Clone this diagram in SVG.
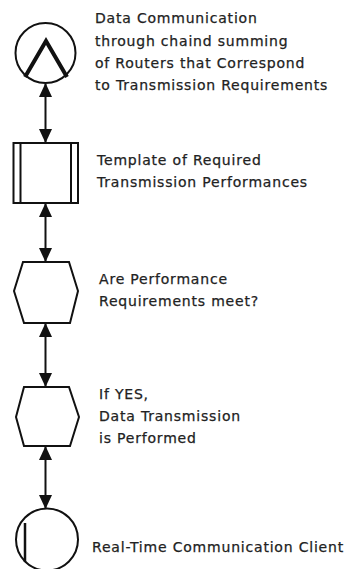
<svg xmlns="http://www.w3.org/2000/svg" width="351" height="569" viewBox="0 0 351 569">
<defs>
<marker id="ah" viewBox="0 0 14 13" refX="13" refY="6.5" markerWidth="14" markerHeight="13" markerUnits="userSpaceOnUse" orient="auto-start-reverse">
<path d="M0,0 L14,6.5 L0,13 z" fill="#111"/>
</marker>
<style>
.shape{fill:#fff;stroke:#111;stroke-width:2}
.conn{stroke:#111;stroke-width:2;fill:none;marker-start:url(#ah);marker-end:url(#ah)}
.lbl{font-family:"DejaVu Sans",sans-serif;font-size:14px;fill:#222;letter-spacing:0.8px;stroke:#222;stroke-width:0.25px}
</style>
</defs>
<rect width="351" height="569" fill="#fff"/>
<g id="connectors">
<line class="conn" x1="45.5" y1="84" x2="45.5" y2="142"/>
<line class="conn" x1="45.5" y1="204" x2="45.5" y2="261"/>
<line class="conn" x1="45.5" y1="324" x2="45.5" y2="386"/>
<line class="conn" x1="45.5" y1="447" x2="45.5" y2="508"/>
</g>
<g id="node1">
<circle class="shape" cx="45.5" cy="53" r="30"/>
<polyline points="25,77 46,41 67,77" fill="none" stroke="#111" stroke-width="4"/>
<text class="lbl" x="95" y="23">Data Communication</text>
<text class="lbl" x="95" y="46">through chaind summing</text>
<text class="lbl" x="95" y="68">of Routers that Correspond</text>
<text class="lbl" x="95" y="90">to Transmission Requirements</text>
</g>
<g id="node2">
<rect class="shape" x="13.5" y="143" width="64.5" height="60"/>
<line x1="20.5" y1="143" x2="20.5" y2="203" stroke="#111" stroke-width="2"/>
<line x1="71" y1="143" x2="71" y2="203" stroke="#111" stroke-width="2"/>
<text class="lbl" x="97" y="165">Template of Required</text>
<text class="lbl" x="97" y="187">Transmission Performances</text>
</g>
<g id="node3">
<polygon class="shape" points="23,262 69,262 78,291 70,323 24,323 14,291"/>
<text class="lbl" x="99" y="284">Are Performance</text>
<text class="lbl" x="99" y="306">Requirements meet?</text>
</g>
<g id="node4">
<polygon class="shape" points="24,387 69,387 79,417 70,446 24,446 16,417"/>
<text class="lbl" x="99" y="399">If YES,</text>
<text class="lbl" x="99" y="421">Data Transmission</text>
<text class="lbl" x="99" y="443">is Performed</text>
</g>
<g id="node5">
<circle class="shape" cx="47" cy="539.5" r="31"/>
<line x1="25" y1="523" x2="25" y2="562" stroke="#111" stroke-width="2.5"/>
<text class="lbl" x="92" y="552">Real-Time Communication Client</text>
</g>
</svg>
